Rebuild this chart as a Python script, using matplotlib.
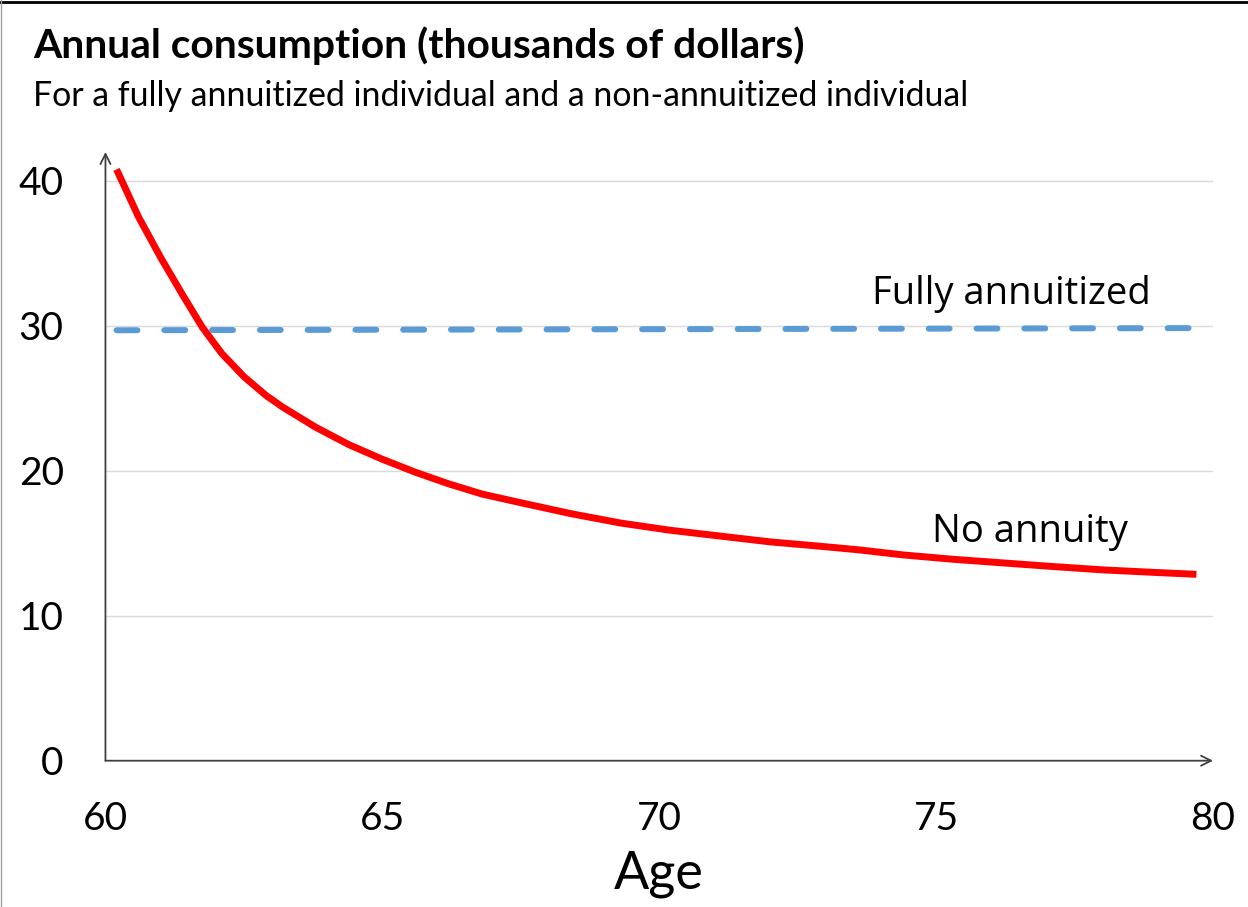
import numpy as np
import matplotlib.pyplot as plt
from matplotlib.lines import Line2D

# consumption path without an annuity (thousands of dollars)
ages = [60.2, 60.6, 61.0, 61.4, 61.75, 62.1, 62.5, 62.9, 63.2, 63.8, 64.4, 65.0,
        65.6, 66.2, 66.8, 67.5, 68.4, 69.3, 70.2, 71.1, 72.0, 72.9, 73.6, 74.4,
        75.3, 76.2, 77.1, 78.0, 78.9, 79.7]
no_annuity = [40.8, 37.5, 34.7, 32.1, 29.9, 28.1, 26.5, 25.2, 24.4, 23.0, 21.8, 20.8,
              19.9, 19.1, 18.4, 17.8, 17.05, 16.4, 15.9, 15.5, 15.1, 14.8, 14.55, 14.2,
              13.9, 13.65, 13.4, 13.17, 13.0, 12.86]

# consumption with full annuitization
annuity_ages = [60.2, 79.7]
annuitized = [29.7, 29.85]

title = 'Annual consumption (thousands of dollars)'
subtitle = 'For a fully annuitized individual and a non-annuitized individual'
xticks = [60, 65, 70, 75, 80]
yticks = [0, 10, 20, 30, 40]

TITLE_FONT = ['Lato', 'DejaVu Sans']
LABEL_FONT = ['Open Sans', 'DejaVu Sans']

fig = plt.figure(figsize=(12.48, 9.07), dpi=100)
ax = fig.add_axes([0.0845, 0.1613, 0.8875, 0.6711])

ax.set_xlim(60, 80)
ax.set_ylim(0, 42)

for y in yticks[1:]:
    ax.axhline(y, color='#D9D9D9', linewidth=1.0, zorder=1)

ax.plot(annuity_ages, annuitized, color='#5B9BD5', linewidth=4.3,
        dashes=(3.5, 4.5), dash_capstyle='round', zorder=3)
ax.plot(ages, no_annuity, color='#FF0000', linewidth=5.0,
        solid_capstyle='butt', solid_joinstyle='round', zorder=4)

ax.text(76.36, 32.2, 'Fully annuitized', fontsize=27.5, family=LABEL_FONT,
        ha='center', va='center')
ax.text(76.69, 15.75, 'No annuity', fontsize=27.5, family=LABEL_FONT,
        ha='center', va='center')

for s in ax.spines.values():
    s.set_visible(False)

# axis lines with open arrowheads
arrow = dict(arrowstyle='->', color='#404040', linewidth=1.3,
             shrinkA=0, shrinkB=0, mutation_scale=18)
ax.annotate('', xy=(1.0, 0), xytext=(0, 0), xycoords='axes fraction',
            arrowprops=arrow, zorder=5)
ax.annotate('', xy=(0, 1.0), xytext=(0, 0), xycoords='axes fraction',
            arrowprops=arrow, zorder=5)

ax.set_xticks(xticks)
ax.set_yticks(yticks)
ax.tick_params(length=0, labelsize=28)
ax.tick_params(axis='x', pad=29)
ax.tick_params(axis='y', pad=30)
for lab in ax.get_xticklabels() + ax.get_yticklabels():
    lab.set_family(TITLE_FONT)

ax.set_xlabel('Age', fontsize=37.5, family=TITLE_FONT, labelpad=10)

fig.text(0.0265, 0.950, title, fontsize=29.3, fontweight='bold',
         family=TITLE_FONT, va='center')
fig.text(0.0265, 0.894, subtitle, fontsize=24.4, family=TITLE_FONT, va='center')

# thin frame lines along the top and left edge
fig.add_artist(Line2D([0, 1], [0.9975, 0.9975], color='black', linewidth=2.0,
                      transform=fig.transFigure))
fig.add_artist(Line2D([0.0008, 0.0008], [0, 1], color='#A0A0A0', linewidth=1.0,
                      transform=fig.transFigure))

plt.savefig('out.png', dpi=100)
plt.close()
